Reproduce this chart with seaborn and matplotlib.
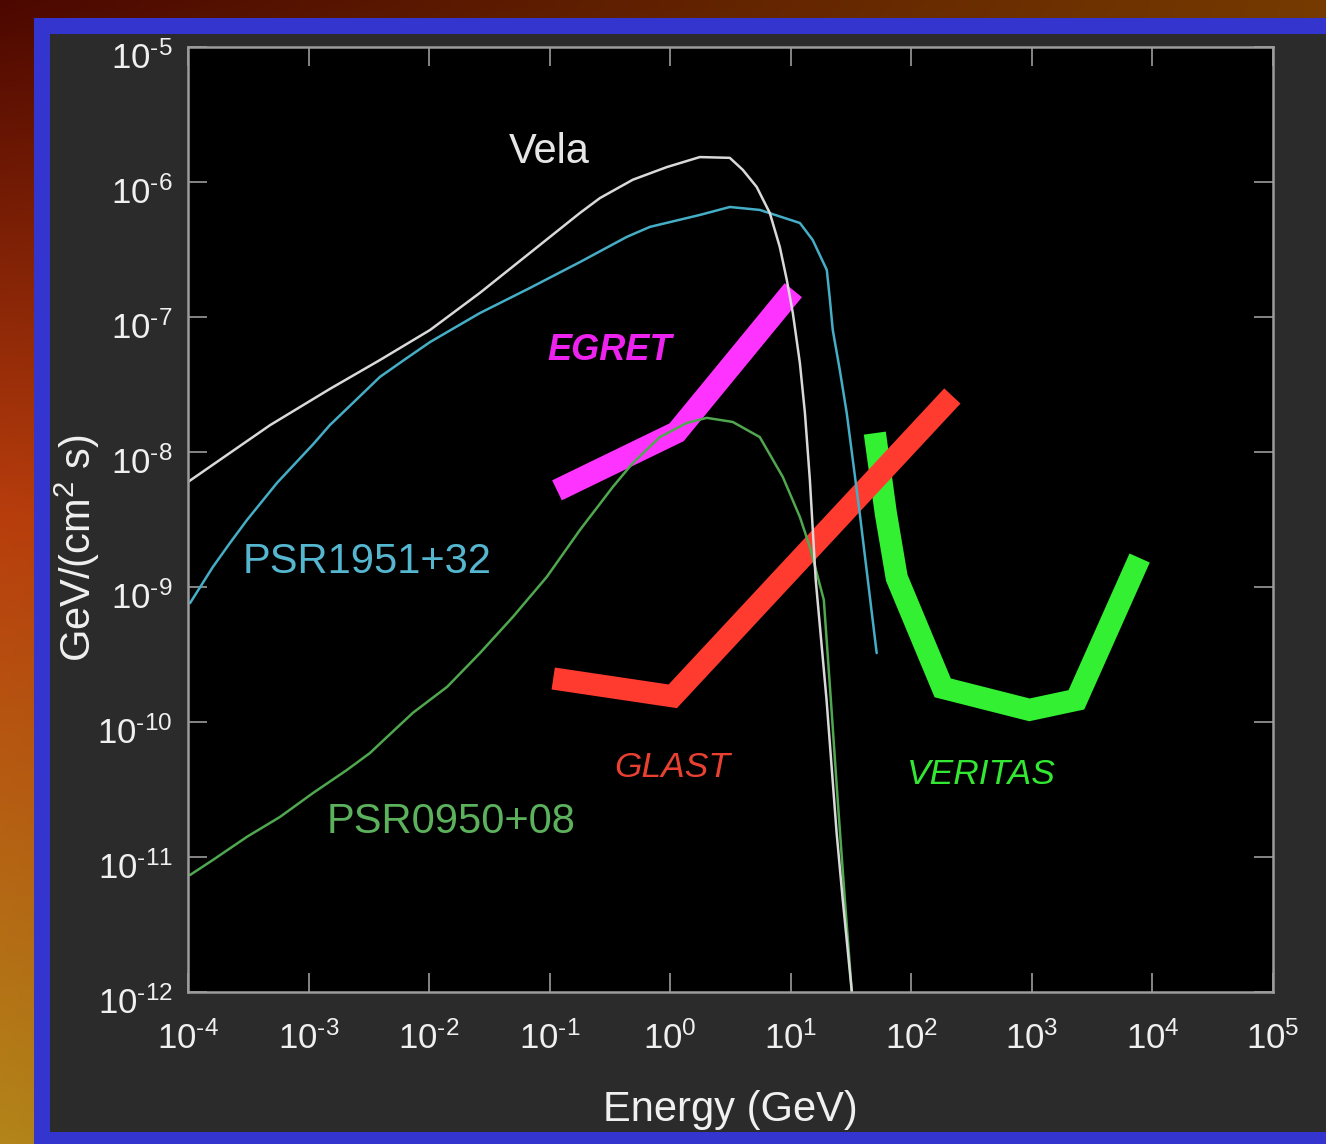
import matplotlib

matplotlib.use("Agg")
import matplotlib.pyplot as plt
import numpy as np
import seaborn as sns
from matplotlib.patches import Rectangle
from matplotlib.ticker import FixedLocator, FuncFormatter, NullLocator
from matplotlib.transforms import ScaledTranslation

W, H, DPI = 1326, 1144, 100

# Spectra: energy in GeV, flux in GeV/(cm^2 s).
vela_energy = [1.0e-4, 4.79e-4, 1.50e-3, 3.91e-3, 1.02e-2, 2.64e-2, 6.85e-2, 0.178,
               0.261, 0.490, 0.938, 1.76, 3.12, 4.00, 5.22, 6.70, 8.11, 9.27, 10.4, 11.9,
               13.1, 14.4, 16.1, 19.8, 24.0, 27.0, 32.1, 33.9]
vela_flux = [6.0e-9, 1.58e-8, 2.93e-8, 4.80e-8, 8.02e-8, 1.51e-7, 2.98e-7, 5.89e-7,
             7.60e-7, 1.04e-6, 1.29e-6, 1.53e-6, 1.51e-6, 1.23e-6, 9.18e-7, 5.89e-7, 3.30e-7,
             1.88e-7, 1.07e-7, 4.56e-8, 1.95e-8, 6.21e-9, 1.13e-9, 1.46e-10, 1.51e-11, 4.8e-12,
             1.0e-12, 5.2e-13]

psr1951_energy = [1.04e-4, 1.61e-4, 2.23e-4, 3.08e-4, 5.47e-4, 1.09e-3, 1.50e-3, 3.91e-3,
                  6.4e-3, 1.02e-2, 2.64e-2, 6.85e-2, 0.178, 0.436, 0.678, 1.76, 3.12, 5.53,
                  11.9, 15.2, 19.9, 21.0, 22.3, 25.5, 29.1, 37.3, 51.6]
psr1951_flux = [7.60e-10, 1.41e-9, 2.12e-9, 3.13e-9, 5.9e-9, 1.14e-8, 1.58e-8, 3.6e-8,
                4.9e-8, 6.53e-8, 1.07e-7, 1.64e-7, 2.55e-7, 3.92e-7, 4.65e-7, 5.70e-7,
                6.53e-7, 6.21e-7, 4.97e-7, 3.72e-7, 2.23e-7, 1.41e-7, 8.02e-8, 4.05e-8,
                1.95e-8, 3.53e-9, 3.24e-10]

psr0950_energy = [1.04e-4, 1.61e-4, 3.08e-4, 5.79e-4, 1.09e-3, 2.08e-3, 3.23e-3, 4.47e-3,
                  7.34e-3, 1.41e-2, 2.64e-2, 4.95e-2, 9.48e-2, 0.178, 0.334, 0.490, 0.820,
                  1.37, 2.01, 3.30, 5.53, 8.59, 11.9, 14.4, 18.8, 21.5, 24.5, 28.1, 32.1, 33.2]
psr0950_flux = [7.36e-12, 9.51e-12, 1.41e-11, 1.98e-11, 2.98e-11, 4.41e-11, 5.89e-11,
                7.74e-11, 1.17e-10, 1.82e-10, 3.24e-10, 6.00e-10, 1.19e-9, 2.64e-9, 5.51e-9,
                8.30e-9, 1.29e-8, 1.64e-8, 1.79e-8, 1.67e-8, 1.29e-8, 6.53e-9, 3.30e-9,
                1.98e-9, 8.02e-10, 1.46e-10, 2.64e-11, 4.8e-12, 1.0e-12, 5.2e-13]

# Instrument sensitivity bands.
egret_energy = [0.115, 1.13, 10.5]
egret_flux = [5.2e-9, 1.4e-8, 1.58e-7]

glast_energy = [0.107, 1.05, 219.0]
glast_flux = [2.1e-10, 1.55e-10, 2.6e-8]

veritas_energy = [49.8, 61.4, 75.7, 182.0, 955.0, 2340.0, 7830.0]
veritas_flux = [1.38e-8, 3.53e-9, 1.17e-9, 1.79e-10, 1.23e-10, 1.46e-10, 1.64e-9]

x_exponents = list(range(-4, 6))
y_exponents = list(range(-12, -4))

INK = "#f0f0f0"
FRAME = "#9c9c9c"

sns.set_theme(style="dark")
plt.rcParams["font.family"] = ["Liberation Sans", "DejaVu Sans"]
plt.rcParams["mathtext.fontset"] = "custom"
plt.rcParams["mathtext.rm"] = "Liberation Sans"
plt.rcParams["mathtext.it"] = "Liberation Sans:italic"
plt.rcParams["mathtext.bf"] = "Liberation Sans:bold"

fig = plt.figure(figsize=(W / DPI, H / DPI), dpi=DPI)

# Backdrop: warm nebula-like gradient, blue frame, dark slide panel.
bg = fig.add_axes([0, 0, 1, 1], zorder=0)
ys = np.linspace(0, 1, 143)
stops = [(0.30, 0.03, 0.0), (0.72, 0.24, 0.05), (0.70, 0.52, 0.10)]
left = np.stack([np.interp(ys, [0, 0.45, 1], ch) for ch in zip(*stops)], axis=-1)
right = np.array([0.46, 0.23, 0.0])
t = np.linspace(0, 1, 166)[None, :, None]
img = left[:, None, :] * (1 - t) + right * t
bg.imshow(img, extent=(0, W, H, 0), aspect="auto", interpolation="bilinear")
bg.add_patch(Rectangle((34, 18), W, H, color="#3434cf", lw=0))
bg.add_patch(Rectangle((50, 34), W, 1132 - 34, color="#2b2b2b", lw=0))
bg.set_xlim(0, W)
bg.set_ylim(H, 0)
bg.axis("off")

ax = fig.add_axes([188 / W, 1 - 992 / H, (1273 - 188) / W, (992 - 47) / H], zorder=1)
ax.set_facecolor("black")
ax.set_xscale("log")
ax.set_yscale("log")

# Thick bands first so the pulsar curves sit on top of them.
for energy, flux, color in [
    (veritas_energy, veritas_flux, "#33f033"),
    (glast_energy, glast_flux, "#ff3b30"),
    (egret_energy, egret_flux, "#ff33ff"),
]:
    sns.lineplot(x=energy, y=flux, ax=ax, color=color, linewidth=16, sort=False,
                 estimator=None, solid_capstyle="butt", solid_joinstyle="miter")

for energy, flux, color in [
    (psr0950_energy, psr0950_flux, "#4fa84f"),
    (psr1951_energy, psr1951_flux, "#45aec6"),
    (vela_energy, vela_flux, "#d9d9d9"),
]:
    sns.lineplot(x=energy, y=flux, ax=ax, color=color, linewidth=1.8, sort=False,
                 estimator=None, solid_joinstyle="round")


def decade_label(value, _pos):
    # "10" with a short hyphen in the exponent, like the slide.
    exp = int(round(np.log10(value)))
    sign = r"\text{-}" if exp < 0 else ""
    return rf"$\mathdefault{{10^{{{sign}{abs(exp)}}}}}$"


ax.set_xlim(1e-4, 1e5)
ax.set_ylim(1e-12, 1e-5)
ax.xaxis.set_major_locator(FixedLocator([10.0 ** k for k in x_exponents]))
ax.yaxis.set_major_locator(FixedLocator([10.0 ** k for k in y_exponents]))
ax.xaxis.set_minor_locator(NullLocator())
ax.yaxis.set_minor_locator(NullLocator())
ax.xaxis.set_major_formatter(FuncFormatter(decade_label))
ax.yaxis.set_major_formatter(FuncFormatter(decade_label))
ax.xaxis.set_ticks_position("both")
ax.yaxis.set_ticks_position("both")
ax.grid(False)
ax.set_xlabel("")
ax.set_ylabel("")
ax.tick_params(which="both", direction="in", top=True, right=True, bottom=True, left=True,
               length=14, width=1.2, color=FRAME, labelcolor=INK, labelsize=25)
ax.tick_params(axis="x", pad=21)
ax.tick_params(axis="y", pad=11)
for spine in ax.spines.values():
    spine.set_visible(True)
    spine.set_color(FRAME)
    spine.set_linewidth(1.8)

# The slide's y labels hang a little below their ticks.
drop = ScaledTranslation(0, -8 / DPI, fig.dpi_scale_trans)
for tick in ax.yaxis.get_major_ticks():
    tick.label1.set_transform(tick.label1.get_transform() + drop)

# Curve and instrument labels (baseline placed in data coordinates).
ax.text(0.10, 1.38e-6, "Vela", color="#e6e6e6", fontsize=30, ha="center", va="baseline")
ax.text(3.05e-3, 1.27e-9, "PSR1951+32", color="#55b6d0", fontsize=30, ha="center",
        va="baseline")
ax.text(1.53e-2, 1.51e-11, "PSR0950+08", color="#5cb25c", fontsize=30, ha="center",
        va="baseline")
ax.text(0.315, 4.8e-8, "EGRET", color="#ee22ee", fontsize=26, fontstyle="italic",
        fontweight="bold", ha="center", va="baseline")
ax.text(1.03, 3.9e-11, "GLAST", color="#ea4032", fontsize=25.5, fontstyle="italic",
        ha="center", va="baseline")
ax.text(384, 3.5e-11, "VERITAS", color="#33e833", fontsize=25.5, fontstyle="italic",
        ha="center", va="baseline")

fig.text(730 / W, 1 - 1110 / H, "Energy (GeV)", color=INK, fontsize=30, ha="center",
         va="center")
fig.text(77 / W, 1 - 548 / H, "GeV/(cm$^2$ s)", color=INK, fontsize=30, ha="center",
         va="center", rotation=90)

fig.savefig("out.png", dpi=DPI)
plt.close(fig)
